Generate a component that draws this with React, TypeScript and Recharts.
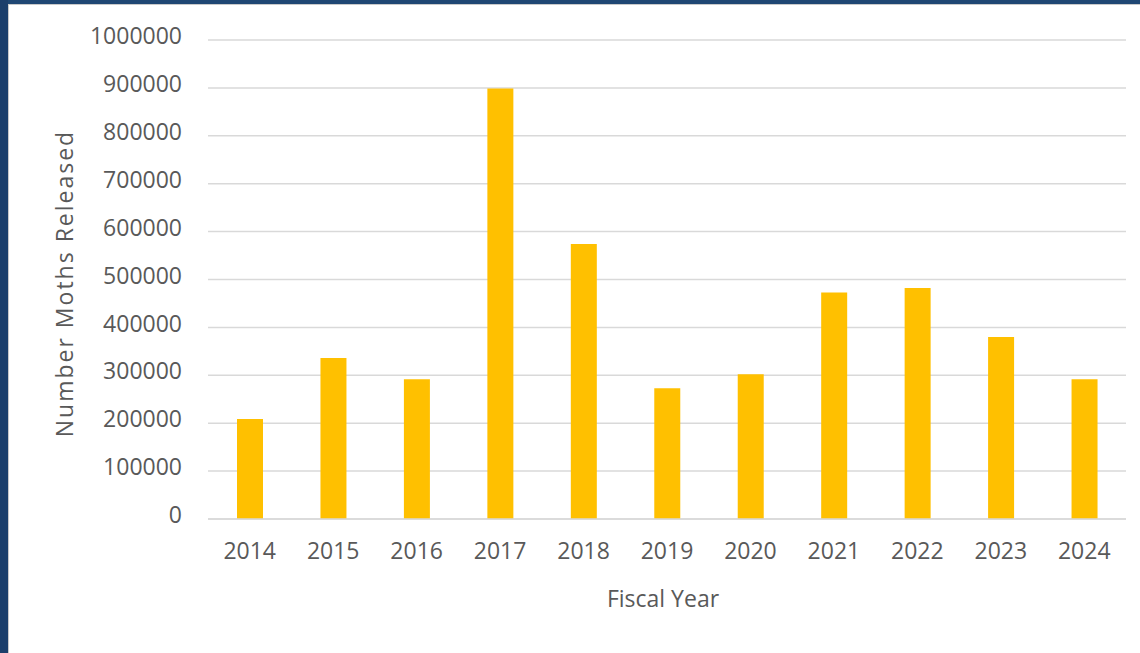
import { Bar, BarChart, CartesianGrid, Label, XAxis, YAxis } from "recharts"

const years = ["2014", "2015", "2016", "2017", "2018", "2019", "2020", "2021", "2022", "2023", "2024"]
const mothsReleased = [209000, 336000, 292000, 899000, 574000, 273000, 302000, 473000, 482000, 380000, 292000]
const yTicks = [0, 100000, 200000, 300000, 400000, 500000, 600000, 700000, 800000, 900000, 1000000]

const data = years.map((year, i) => ({ year, moths: mothsReleased[i] }))

const textColor = "#595959"

function YTitle(props: any) {
    const { x, y, height } = props.viewBox
    const cx = x + 73
    const cy = y + height / 2 + 4
    return <text x={cx} y={cy} transform={`rotate(-90 ${cx} ${cy})`} textAnchor="middle"
        fill={textColor} fontSize={23} letterSpacing={2}>Number Moths Released</text>
}

function XTitle(props: any) {
    const { x, y, width } = props.viewBox
    return <text x={x + width / 2 - 4} y={y + 88} textAnchor="middle" fill={textColor} fontSize={23}>Fiscal Year</text>
}

export default function App() {
    return <>
        <div style={{ position: "absolute", left: 0, top: 0, width: 1140, height: 653, background: "#fff", overflow: "hidden", fontFamily: "'Open Sans', sans-serif" }}>
            <BarChart width={1140} height={653} data={data} margin={{ top: 40, right: 14, bottom: 0, left: 0 }}>
                <CartesianGrid vertical={false} stroke="#d9d9d9" strokeWidth={1.5} />
                <XAxis dataKey="year" height={134} axisLine={{ stroke: "#d9d9d9", strokeWidth: 1.5 }} tickLine={false}
                    tickSize={0} tickMargin={24} tick={{ fill: textColor, fontSize: 23 }} interval={0}>
                    <Label content={XTitle} />
                </XAxis>
                <YAxis width={208} domain={[0, 1000000]} ticks={yTicks} interval={0} axisLine={false} tickLine={false}
                    tickSize={0} tickMargin={26} tick={{ fill: textColor, fontSize: 23, dy: -4 }}>
                    <Label content={YTitle} />
                </YAxis>
                <Bar dataKey="moths" fill="#ffc000" barSize={26} isAnimationActive={false} />
            </BarChart>
            {/* frame of the slide */}
            <div style={{ position: "absolute", left: 0, top: 0, width: 1140, height: 4, background: "#1f4773" }} />
            <div style={{ position: "absolute", left: 0, top: 0, width: 8, height: 653, background: "#1c3f6b" }} />
            <div style={{ position: "absolute", left: 8, top: 4, width: 1132, height: 1, background: "#c9c9c9" }} />
            <div style={{ position: "absolute", left: 8, top: 4, width: 1, height: 649, background: "#c9c9c9" }} />
        </div>
    </>
}
